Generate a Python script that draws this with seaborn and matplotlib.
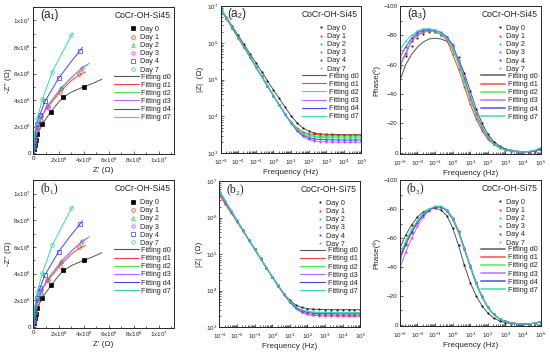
import matplotlib
matplotlib.use("Agg")
import matplotlib.pyplot as plt
import seaborn as sns
from matplotlib.lines import Line2D
from matplotlib.ticker import FuncFormatter, MultipleLocator, LogLocator, NullFormatter

#-- data -----------------------------------------------------------
days = ["Day 0", "Day 1", "Day 2", "Day 3", "Day 4", "Day 7"]
fits = ["Fitting d0", "Fitting d1", "Fitting d2", "Fitting d3", "Fitting d4", "Fitting d7"]

# Nyquist (x 1e6 ohm), same sample in (a1) and (b1)
nyq_re = [
    [0.02, 0.08, 0.16, 0.3, 0.7, 1.37, 2.35, 4.0],
    [0.03, 0.12, 0.3, 0.6, 1.15, 2.1, 3.63],
    [0.03, 0.12, 0.3, 0.55, 1.1, 2.2, 3.8],
    [0.03, 0.12, 0.3, 0.55, 1.05, 2.2, 3.9],
    [0.03, 0.1, 0.25, 0.5, 0.9, 2.0, 3.73],
    [0.02, 0.08, 0.3, 0.7, 1.5, 3.0],
]
nyq_im = [
    [0.3, 0.65, 1.0, 1.42, 2.2, 3.12, 4.25, 5.0],
    [0.4, 1.0, 1.8, 2.8, 3.5, 4.6, 6.0],
    [0.45, 1.1, 2.0, 2.6, 3.6, 4.95, 6.37],
    [0.45, 1.1, 2.0, 2.5, 3.5, 4.9, 6.45],
    [0.6, 1.3, 2.2, 2.9, 3.9, 5.65, 7.7],
    [0.7, 1.6, 2.65, 4.05, 6.15, 8.9],
]
nyq_fit_re = [
    [0, 0.04, 0.12, 0.3, 0.7, 1.37, 2.0, 2.35, 3.0, 4.0, 4.7, 5.45],
    [0, 0.1, 0.3, 0.6, 1.15, 2.1, 3.0, 3.63, 4.15],
    [0, 0.1, 0.3, 0.55, 1.1, 2.2, 3.0, 3.8, 4.48],
    [0, 0.1, 0.3, 0.55, 1.05, 2.2, 3.0, 3.9, 4.35],
    [0, 0.1, 0.25, 0.5, 0.9, 2.0, 3.0, 3.73, 3.9],
    [0, 0.06, 0.3, 0.7, 1.5, 2.3, 3.0, 3.15],
]
nyq_fit_im = [
    [0, 0.45, 0.9, 1.42, 2.2, 3.12, 3.85, 4.2, 4.6, 5.0, 5.25, 5.57],
    [0, 0.9, 1.8, 2.75, 3.5, 4.6, 5.45, 5.9, 6.12],
    [0, 1.0, 2.0, 2.65, 3.6, 4.95, 5.7, 6.37, 6.8],
    [0, 1.0, 2.0, 2.55, 3.5, 4.85, 5.65, 6.45, 6.67],
    [0, 1.25, 2.2, 2.9, 3.9, 5.65, 6.9, 7.75, 7.97],
    [0, 1.4, 2.65, 4.05, 6.15, 7.6, 8.85, 9.07],
]

freq = [1e-3, 2.15e-3, 4.64e-3, 1e-2, 2.15e-2, 4.64e-2, 0.1, 0.215, 0.464,
        1, 2.15, 4.64, 10, 21.5, 46.4, 100, 215, 464,
        1e3, 2.15e3, 4.64e3, 1e4, 2.15e4, 4.64e4, 1e5]

# |Z| (ohm) CoCr-OH-Si45
modz_a = [
    [8.7e6, 5.0e6, 2.8e6, 1.6e6, 9.1e5, 5.1e5, 2.9e5, 1.66e5, 9.4e4, 5.3e4, 3.08e4, 1.79e4, 1.06e4,
     6.85e3, 4.9e3, 4.04e3, 3.52e3, 3.35e3, 3.27e3, 3.24e3, 3.22e3, 3.21e3, 3.2e3, 3.2e3, 3.2e3],
    [8.0e6, 4.5e6, 2.47e6, 1.35e6, 7.5e5, 4.15e5, 2.22e5, 1.22e5, 6.7e4, 3.7e4, 2.08e4, 1.17e4, 7.17e3,
     4.89e3, 3.83e3, 3.41e3, 3.24e3, 3.16e3, 3.13e3, 3.11e3, 3.1e3, 3.1e3, 3.1e3, 3.1e3, 3.1e3],
    [8.5e6, 4.7e6, 2.55e6, 1.38e6, 7.6e5, 4.2e5, 2.24e5, 1.23e5, 6.7e4, 3.69e4, 2.07e4, 1.16e4, 6.99e3,
     4.67e3, 3.57e3, 3.13e3, 2.95e3, 2.87e3, 2.84e3, 2.82e3, 2.81e3, 2.8e3, 2.8e3, 2.8e3, 2.8e3],
    [8.5e6, 4.7e6, 2.55e6, 1.38e6, 7.6e5, 4.2e5, 2.24e5, 1.23e5, 6.7e4, 3.67e4, 2.05e4, 1.125e4, 6.58e3,
     4.12e3, 2.89e3, 2.37e3, 2.16e3, 2.07e3, 2.04e3, 2.02e3, 2.01e3, 2.0e3, 2.0e3, 2.0e3, 2.0e3],
    [8.7e6, 4.8e6, 2.6e6, 1.4e6, 7.7e5, 4.25e5, 2.26e5, 1.24e5, 6.75e4, 3.68e4, 2.06e4, 1.136e4, 6.73e3,
     4.32e3, 3.14e3, 2.65e3, 2.46e3, 2.37e3, 2.34e3, 2.32e3, 2.31e3, 2.3e3, 2.3e3, 2.3e3, 2.3e3],
    [8.8e6, 4.85e6, 2.62e6, 1.41e6, 7.75e5, 4.27e5, 2.27e5, 1.24e5, 6.75e4, 3.69e4, 2.07e4, 1.15e4, 6.88e3,
     4.52e3, 3.39e3, 2.93e3, 2.75e3, 2.67e3, 2.64e3, 2.62e3, 2.61e3, 2.6e3, 2.6e3, 2.6e3, 2.6e3],
]
# |Z| (ohm) CoCr-OH-Si75
modz_b = [
    [4.5e6, 2.55e6, 1.43e6, 8.0e5, 4.45e5, 2.47e5, 1.37e5, 7.6e4, 4.23e4, 2.42e4, 1.39e4, 8.3e3, 5.42e3,
     4.04e3, 3.45e3, 3.2e3, 3.09e3, 3.04e3, 3.02e3, 3.01e3, 3.0e3, 3.0e3, 3.0e3, 3.0e3, 3.0e3],
    [4.1e6, 2.35e6, 1.35e6, 7.7e5, 4.35e5, 2.43e5, 1.36e5, 7.55e4, 4.2e4, 2.39e4, 1.35e4, 7.82e3, 4.78e3,
     3.24e3, 2.53e3, 2.23e3, 2.1e3, 2.06e3, 2.03e3, 2.02e3, 2.01e3, 2.0e3, 2.0e3, 2.0e3, 2.0e3],
    [5.0e6, 2.75e6, 1.5e6, 8.2e5, 4.52e5, 2.5e5, 1.38e5, 7.64e4, 4.24e4, 2.4e4, 1.37e4, 8.0e3, 5.02e3,
     3.55e3, 2.89e3, 2.62e3, 2.5e3, 2.45e3, 2.43e3, 2.42e3, 2.41e3, 2.4e3, 2.4e3, 2.4e3, 2.4e3],
    [4.8e6, 2.65e6, 1.47e6, 8.13e5, 4.5e5, 2.49e5, 1.38e5, 7.64e4, 4.24e4, 2.39e4, 1.356e4, 7.87e3, 4.84e3,
     3.32e3, 2.62e3, 2.33e3, 2.2e3, 2.15e3, 2.13e3, 2.12e3, 2.11e3, 2.1e3, 2.1e3, 2.1e3, 2.1e3],
    [5.4e6, 2.9e6, 1.57e6, 8.4e5, 4.6e5, 2.52e5, 1.39e5, 7.66e4, 4.25e4, 2.4e4, 1.363e4, 7.95e3, 4.96e3,
     3.47e3, 2.8e3, 2.52e3, 2.4e3, 2.35e3, 2.33e3, 2.32e3, 2.31e3, 2.3e3, 2.3e3, 2.3e3, 2.3e3],
    [5.4e6, 2.9e6, 1.57e6, 8.4e5, 4.6e5, 2.52e5, 1.39e5, 7.66e4, 4.25e4, 2.41e4, 1.37e4, 8.05e3, 5.08e3,
     3.63e3, 2.98e3, 2.71e3, 2.6e3, 2.55e3, 2.53e3, 2.52e3, 2.51e3, 2.5e3, 2.5e3, 2.5e3, 2.5e3],
]

# phase (deg) CoCr-OH-Si45
phase_a = [
    [-49, -60, -67, -72, -75.5, -77.5, -78, -77.5, -76, -71, -64, -54, -42, -30, -20, -12.5, -7.5, -4.5,
     -2.5, -1.4, -0.8, -0.6, -0.6, -1.0, -2.0],
    [-59, -67, -76, -80, -82, -83, -82.5, -80.5, -77, -67, -57, -45, -33, -23, -15, -9, -5.5, -3.2,
     -1.8, -1.0, -0.6, -0.5, -0.6, -1.2, -2.5],
    [-60, -68, -76, -80.5, -82.5, -83, -82.5, -81, -78, -70, -60, -48, -36, -25.5, -16.5, -10, -6, -3.5,
     -1.8, -1.0, -0.6, -0.5, -0.6, -1.2, -2.5],
    [-60, -68, -76, -81, -83, -83.5, -83, -81.5, -79, -74, -63, -51, -38.5, -27, -17.5, -10.5, -6, -3.5,
     -1.8, -1.0, -0.6, -0.5, -0.6, -1.2, -2.5],
    [-65, -72, -78, -82, -83.5, -84, -83.5, -82, -79, -73, -62, -50, -37.5, -26.5, -17, -10.5, -6, -3.5,
     -1.8, -1.0, -0.6, -0.5, -0.6, -1.2, -2.5],
    [-70, -76, -80, -83, -84.5, -84.5, -83.5, -81.5, -78, -72, -61.5, -49, -37, -26, -17, -10.5, -6, -3.5,
     -1.8, -1.0, -0.6, -0.5, -0.7, -1.5, -3.5],
]
phase_a_day0_pts = [-58, -66, -73, -78, -81, -82, -82, -80.5, -78, -73, -65, -54, -42, -30, -20, -12.5,
                    -7.5, -4.5, -2.5, -1.4, -0.8, -0.6, -0.6, -1.0, -2.0]
# phase (deg) CoCr-OH-Si75
phase_b = [
    [-53, -62, -69, -74.5, -78, -80, -80.5, -79.5, -75.5, -67, -55, -41, -29, -20, -13, -8, -4.5, -2.5,
     -1.3, -0.7, -0.4, -0.3, -0.4, -0.8, -1.8],
    [-45, -55, -63.5, -70.5, -76, -79.5, -81.5, -81.5, -79.5, -74, -65, -53, -41, -29.5, -19.5, -12, -7, -4,
     -2.2, -1.2, -0.7, -0.5, -0.6, -1.0, -2.0],
    [-47, -57, -65, -71.5, -76.5, -80, -81.5, -81.5, -79, -73, -64, -52, -40, -28.5, -19, -12, -7, -4,
     -2.2, -1.2, -0.7, -0.5, -0.6, -1.0, -2.0],
    [-39, -50, -60, -68, -74.5, -79, -81.5, -81.5, -79.5, -74, -65, -53, -40.5, -29, -19.5, -12, -7, -4,
     -2.2, -1.2, -0.7, -0.5, -0.6, -1.0, -2.0],
    [-46, -56, -64, -71, -76, -79.5, -81.5, -81.5, -79, -73, -64, -52, -40, -28.5, -19, -12, -7, -4,
     -2.2, -1.2, -0.7, -0.5, -0.6, -1.0, -2.0],
    [-48, -58, -66, -72, -77, -80, -82, -82, -79.5, -73.5, -64, -52, -40, -28.5, -19, -12, -7, -4,
     -2.2, -1.2, -0.7, -0.5, -0.6, -1.0, -2.2],
]

pt_colors = ["#000000", "#ff2020", "#22cc22", "#cc33ee", "#3333ff", "#33ccaa"]
fit_colors = ["#555555", "#ff4040", "#44ee44", "#bb66ff", "#4444ff", "#33ddaa"]
nyq_markers = ["s", "o", "^", "h", "s", "o"]

#-- style -----------------------------------------------------------
sns.set_style("ticks")
plt.rcParams['font.family'] = ['Liberation Sans', 'DejaVu Sans']
plt.rcParams['mathtext.fontset'] = 'custom'
plt.rcParams['mathtext.rm'] = 'Liberation Sans'
plt.rcParams['mathtext.it'] = 'Liberation Sans:italic'
plt.rcParams['axes.linewidth'] = 0.7

fig = plt.figure(figsize=(5.5, 3.54), dpi=100)
pos = {
    "a1": [0.060, 0.565, 0.256, 0.415], "a2": [0.401, 0.567, 0.256, 0.416], "a3": [0.727, 0.565, 0.256, 0.418],
    "b1": [0.060, 0.074, 0.256, 0.417], "b2": [0.399, 0.076, 0.256, 0.412], "b3": [0.727, 0.079, 0.256, 0.412],
}


def sci_fmt(v, p):
    if abs(v) < 1:
        return "0"
    e = len(str(int(round(v)))) - 1
    m = int(round(v / 10 ** e))
    return "%dx10$^{%d}$" % (m, e)


def style_ax(ax, xpad=1.5):
    ax.tick_params(which="both", direction="in", labelsize=4.5, pad=1.5, width=0.5)
    ax.tick_params(axis="x", pad=xpad)
    ax.tick_params(which="major", length=2.5)
    ax.tick_params(which="minor", length=1.4)
    for s in ax.spines.values():
        s.set_linewidth(0.7)


def add_legend(ax, title, kind, label, serif):
    ax.text(0.975, 0.945, title, transform=ax.transAxes, ha="right", va="center", fontsize=6.2)
    fam = ['Liberation Serif', 'DejaVu Serif'] if serif else ['Liberation Sans', 'DejaVu Sans']
    ax.text(0.05, 0.945, label, transform=ax.transAxes, ha="left", va="center", fontsize=8.5, family=fam)
    if kind == "nyq":
        dh = [Line2D([], [], ls="none", marker=nyq_markers[i], ms=2.6, mew=0.5, color=pt_colors[i],
                     mfc=pt_colors[i] if i == 0 else "none") for i in range(6)]
    else:
        dh = [Line2D([], [], ls="none", marker="s", ms=1.3, mew=0, color=pt_colors[i]) for i in range(6)]
    lw = 1.4 if kind == "phase" else 0.8
    fh = [Line2D([], [], color=fit_colors[i], lw=lw, alpha=0.75 if kind == "phase" else 1)
          for i in range(6)]
    common = dict(loc="upper left", frameon=False, fontsize=5.2, borderpad=0, borderaxespad=0,
                  labelspacing=0.15, handletextpad=0.4, handleheight=0.7)
    l1 = ax.legend(dh, days, bbox_to_anchor=(0.685, 0.872), handlelength=1.0, **common)
    ax.add_artist(l1)
    ax.legend(fh, fits, bbox_to_anchor=(0.575, 0.548), handlelength=3.4, **common)


#-- Nyquist ---------------------------------------------------------
for key, lab, serif in [("a1", "(a\u2081)", False), ("b1", "(b\u2081)", True)]:
    ax = fig.add_axes(pos[key])
    for i in range(6):
        sns.lineplot(x=[v * 1e6 for v in nyq_fit_re[i]], y=[v * 1e6 for v in nyq_fit_im[i]], ax=ax,
                     color=fit_colors[i], lw=0.7, sort=False, estimator=None)
        sns.lineplot(x=[v * 1e6 for v in nyq_re[i]], y=[v * 1e6 for v in nyq_im[i]], ax=ax,
                     color=pt_colors[i], ls="", marker=nyq_markers[i], ms=2.6, mew=0.5,
                     mec=pt_colors[i], mfc=pt_colors[i] if i == 0 else "none", sort=False, estimator=None)
    ax.set_xlim(-0.05e6, 11.2e6)
    ax.set_ylim(-0.05e6, 11.0e6)
    ax.xaxis.set_major_locator(MultipleLocator(2e6))
    ax.yaxis.set_major_locator(MultipleLocator(2e6))
    ax.xaxis.set_minor_locator(MultipleLocator(1e6))
    ax.yaxis.set_minor_locator(MultipleLocator(1e6))
    ax.xaxis.set_major_formatter(FuncFormatter(sci_fmt))
    ax.yaxis.set_major_formatter(FuncFormatter(sci_fmt))
    style_ax(ax)
    ax.set_xlabel("Z' (\u03a9)", fontsize=5.8, labelpad=1.5)
    ax.set_ylabel("-Z'' (\u03a9)", fontsize=5.8, labelpad=1)
    add_legend(ax, "CoCr-OH-Si45", "nyq", lab, serif)

#-- Bode |Z| --------------------------------------------------------
for key, data, title, lab, serif in [("a2", modz_a, "CoCr-OH-Si45", "(a\u2082)", False),
                                     ("b2", modz_b, "CoCr-OH-Si75", "(b\u2082)", True)]:
    ax = fig.add_axes(pos[key])
    for i in range(6):
        sns.lineplot(x=freq, y=data[i], ax=ax, color=fit_colors[i], lw=0.7, estimator=None)
        sns.lineplot(x=freq, y=data[i], ax=ax, color=pt_colors[i], ls="", marker="s", ms=1.3,
                     mew=0, estimator=None)
    ax.set_xscale("log")
    ax.set_yscale("log")
    ax.set_xlim(1e-3, 1e5)
    ax.set_ylim(1e3, 1e7)
    ax.xaxis.set_major_locator(LogLocator(base=10, numticks=20))
    ax.xaxis.set_minor_locator(LogLocator(base=10, subs=range(2, 10), numticks=20))
    ax.yaxis.set_minor_locator(LogLocator(base=10, subs=range(2, 10), numticks=20))
    ax.xaxis.set_minor_formatter(NullFormatter())
    ax.yaxis.set_minor_formatter(NullFormatter())
    style_ax(ax, xpad=3.2)
    ax.set_xlabel("Frequency (Hz)", fontsize=5.8, labelpad=1.5)
    ax.set_ylabel("|Z|  (\u03a9)", fontsize=5.8, labelpad=2)
    add_legend(ax, title, "bode", lab, serif)

#-- Bode phase ------------------------------------------------------
for key, data, title, lab, serif in [("a3", phase_a, "CoCr-OH-Si45", "(a\u2083)", False),
                                     ("b3", phase_b, "CoCr-OH-Si75", "(b\u2083)", True)]:
    ax = fig.add_axes(pos[key])
    for i in range(6):
        sns.lineplot(x=freq, y=data[i], ax=ax, color=fit_colors[i], lw=0.7, estimator=None)
        pts = phase_a_day0_pts if (key == "a3" and i == 0) else data[i]
        sns.lineplot(x=freq, y=pts, ax=ax, color=pt_colors[i], ls="", marker="s", ms=1.3,
                     mew=0, estimator=None)
    ax.set_xscale("log")
    ax.set_xlim(1e-3, 1e5)
    ax.set_ylim(1, -100)
    ax.xaxis.set_major_locator(LogLocator(base=10, numticks=20))
    ax.xaxis.set_minor_locator(LogLocator(base=10, subs=range(2, 10), numticks=20))
    ax.xaxis.set_minor_formatter(NullFormatter())
    ax.yaxis.set_major_locator(MultipleLocator(20))
    ax.yaxis.set_minor_locator(MultipleLocator(10))
    style_ax(ax, xpad=3.2)
    ax.set_xlabel("Frequency (Hz)", fontsize=5.8, labelpad=1.5)
    ax.set_ylabel("Phase(\u00ba)", fontsize=5.8, labelpad=2)
    add_legend(ax, title, "phase", lab, serif)

fig.savefig("out.png", dpi=100)
